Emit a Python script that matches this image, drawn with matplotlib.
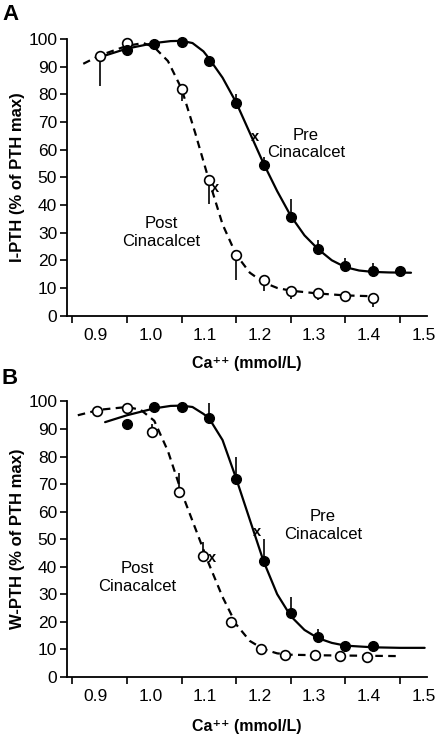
import numpy as np
import matplotlib.pyplot as plt
from matplotlib.ticker import MultipleLocator
from matplotlib.transforms import ScaledTranslation

plt.rcParams['font.family'] = ['Liberation Sans', 'DejaVu Sans']

# ---- Panel A : I-PTH ----
a_pre_x = [0.95, 1.00, 1.05, 1.10, 1.15, 1.20, 1.25, 1.30, 1.35, 1.40, 1.45]
a_pre_y = [96, 98, 99, 92, 77, 54.5, 35.5, 24, 18, 16, 16]
a_pre_err = [0, 2, 0, 0, 3, 3, 6.5, 3.5, 3, 3, 0]

a_post_x = [0.90, 0.95, 1.05, 1.10, 1.15, 1.20, 1.25, 1.30, 1.35, 1.40]
a_post_y = [94, 98.5, 82, 49, 22, 13, 9, 8, 7, 6.5]
a_post_err = [11, 0, 4.5, 8.5, 9, 4, 3, 2.5, 0, 3.5]

a_pre_fit_x = [0.91, 0.95, 1.00, 1.03, 1.05, 1.07, 1.09, 1.10, 1.125, 1.15, 1.175, 1.20,
               1.225, 1.25, 1.275, 1.30, 1.325, 1.35, 1.375, 1.40, 1.43, 1.47]
a_pre_fit_y = [94, 96.5, 98.5, 99.2, 99.3, 98.5, 95.5, 93, 86, 77, 66, 55,
               45, 36, 29, 24, 20, 17.5, 16.3, 15.8, 15.6, 15.5]
a_post_fit_x = [0.87, 0.90, 0.95, 0.98, 1.00, 1.025, 1.05, 1.075, 1.10, 1.125, 1.15,
                1.175, 1.20, 1.225, 1.25, 1.30, 1.35, 1.40]
a_post_fit_y = [91, 94, 97.5, 98.5, 97, 92, 82, 66, 49, 33, 22,
                15.5, 12, 10, 9, 8, 7.3, 7]

a_marks = [(1.185, 64.5), (1.111, 46)]

# ---- Panel B : W-PTH ----
b_pre_x = [0.95, 1.00, 1.05, 1.10, 1.15, 1.20, 1.25, 1.30, 1.35, 1.40]
b_pre_y = [92, 98, 98, 94, 72, 42, 23, 14.5, 11, 11]
b_pre_err = [0, 0, 0, 5.5, 8, 8, 6, 3, 0, 0]

b_post_x = [0.895, 0.95, 0.995, 1.045, 1.09, 1.14, 1.195, 1.24, 1.295, 1.34, 1.39]
b_post_y = [96.5, 97.5, 89, 67, 44, 20, 10, 8, 8, 7.5, 7]
b_post_err_lo = [0, 0, 0, 0, 0, 2, 0, 0, 0, 0, 0]
b_post_err_hi = [0, 0, 3, 7, 5, 0, 0, 0, 0, 0, 0]

b_pre_fit_x = [0.91, 0.95, 1.00, 1.03, 1.05, 1.07, 1.09, 1.10, 1.125, 1.15, 1.175, 1.20,
               1.225, 1.25, 1.275, 1.30, 1.325, 1.35, 1.40, 1.45, 1.495]
b_pre_fit_y = [92.5, 95, 97.5, 98.4, 98.5, 98, 95.5, 94, 86, 72, 57, 42,
               30, 22, 17, 14, 12.3, 11.3, 10.7, 10.5, 10.5]
b_post_fit_x = [0.86, 0.90, 0.95, 0.975, 1.00, 1.025, 1.05, 1.075, 1.10, 1.125, 1.15,
                1.175, 1.20, 1.225, 1.25, 1.30, 1.45]
b_post_fit_y = [95, 97, 98, 97, 93, 82, 67, 54, 41, 29, 19,
                13, 10, 8.5, 8, 7.8, 7.5]

b_marks = [(1.188, 52.7), (1.105, 43)]

fig = plt.figure(figsize=(4.37, 7.34), dpi=100)
axA = fig.add_axes([0.153, 0.570, 0.825, 0.377])
axB = fig.add_axes([0.153, 0.078, 0.825, 0.375])


def panel(ax, pre, post, pre_fit, post_fit, marks, ylabel, pre_txt, post_txt, xpad):
    ax.plot(*pre_fit, color='black', lw=1.6, solid_capstyle='round', zorder=2)
    ax.plot(*post_fit, color='black', lw=1.6, ls=(0, (3.4, 2.4)), zorder=2)
    px, py, perr = pre
    ax.errorbar(px, py, yerr=perr, fmt='o', color='black', ms=7, elinewidth=1.2,
                capsize=0, zorder=4, clip_on=False)
    qx, qy, qerr = post
    ax.errorbar(qx, qy, yerr=qerr, fmt='o', mfc='white', mec='black', mew=1.2,
                ecolor='black', ms=7, elinewidth=1.2, capsize=0, zorder=3,
                clip_on=False)
    for mx, my in marks:
        ax.text(mx, my, 'x', fontsize=10.5, fontweight='bold', ha='center', va='center')
    ax.text(*pre_txt, 'Pre\nCinacalcet', fontsize=12, ha='center', va='center',
            linespacing=1.2)
    ax.text(*post_txt, 'Post\nCinacalcet', fontsize=12, ha='center', va='center',
            linespacing=1.2)

    ax.set_xlim(0.84, 1.5)
    ax.set_ylim(0, 100)
    ax.spines['top'].set_visible(False)
    ax.spines['right'].set_visible(False)
    ax.spines['left'].set_linewidth(1.3)
    ax.spines['bottom'].set_linewidth(1.3)
    ax.set_xticks(np.arange(0.9, 1.51, 0.1))
    ax.set_xticklabels(['0.9', '1.0', '1.1', '1.2', '1.3', '1.4', '1.5'])
    ax.xaxis.set_minor_locator(MultipleLocator(0.1, offset=0.05))
    ax.tick_params(axis='x', which='major', length=0, pad=9, labelsize=12.5)
    ax.tick_params(axis='x', which='minor', length=5, width=1.2, direction='out')
    shift = ScaledTranslation(-4 / 100, 0, fig.dpi_scale_trans)
    for lab in ax.get_xticklabels():
        lab.set_transform(lab.get_transform() + shift)
    ax.set_yticks(np.arange(0, 101, 10))
    ax.tick_params(axis='y', length=5, width=1.2, labelsize=12.5, pad=2)
    ax.set_xlabel('Ca\u207a\u207a (mmol/L)', fontsize=11.5, fontweight='bold', labelpad=xpad)
    ax.set_ylabel(ylabel, fontsize=12, fontweight='bold', labelpad=2)


panel(axA, (a_pre_x, a_pre_y, [np.zeros(len(a_pre_err)), a_pre_err]),
      (a_post_x, a_post_y, [a_post_err, np.zeros(len(a_post_err))]),
      (a_pre_fit_x, a_pre_fit_y), (a_post_fit_x, a_post_fit_y), a_marks,
      'I-PTH (% of PTH max)', (1.278, 62), (1.013, 30), 9)
panel(axB, (b_pre_x, b_pre_y, [np.zeros(len(b_pre_err)), b_pre_err]),
      (b_post_x, b_post_y, [b_post_err_lo, b_post_err_hi]),
      (b_pre_fit_x, b_pre_fit_y), (b_post_fit_x, b_post_fit_y), b_marks,
      'W-PTH (% of PTH max)', (1.309, 55), (0.969, 36), 10.5)

fig.text(0.025, 1 - 14.5 / 734, 'A', fontsize=16, fontweight='bold', ha='center', va='center')
fig.text(0.023, 1 - 379 / 734, 'B', fontsize=16, fontweight='bold', ha='center', va='center')

fig.savefig('out.png', dpi=100)
